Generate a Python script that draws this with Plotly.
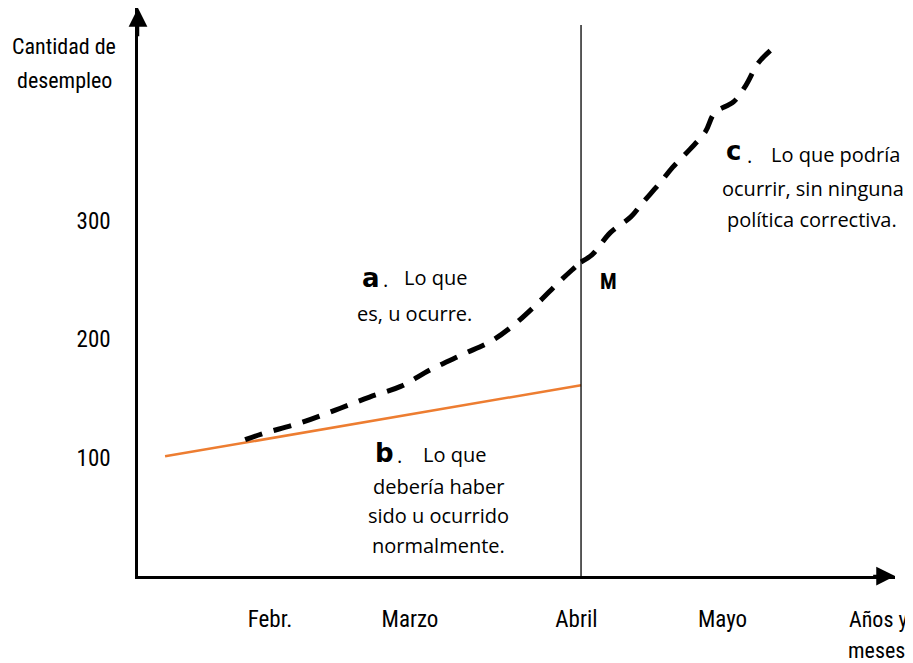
import plotly.graph_objects as go

# ---- data (x in months: Febr≈1 ... Abril=3, y = cantidad de desempleo) ----
x_a = [0.84, 0.95, 1.19, 1.42, 1.64, 1.84, 2.03, 2.24, 2.42, 2.56, 2.72, 2.85, 2.94, 3.0]
y_a = [115, 120, 129, 140, 151, 160, 174, 187, 198, 211, 230, 247, 258, 265]

x_c = [3.0, 3.07, 3.19, 3.32, 3.39, 3.51, 3.59, 3.70, 3.80, 3.86, 3.98, 4.06, 4.14, 4.24]
y_c = [265, 271, 290, 303, 314, 332, 345, 360, 375, 391, 400, 414, 433, 446]

x_b = [0.325, 3.0]
y_b = [101, 161]

x_tick_vals = [1.0, 1.9, 2.97, 3.91]
x_tick_text = ["Febr.", "Marzo", "Abril", "Mayo"]
y_tick_vals = [100, 200, 300]
y_tick_text = ["100", "200", "300"]

abril_x = 3.0
abril_top = 465

AX_FONT = "Roboto Condensed, Liberation Sans Narrow, Arial Narrow, sans-serif"
TXT_FONT = "Open Sans, Noto Sans, sans-serif"
BIG_FONT = "DejaVu Sans, Arial Black, sans-serif"

W, H = 905, 655          # page body adds an 8px margin
ml, mr, mt, mb = 130, 18, 0, 87
pw, ph = W - ml - mr, H - mt - mb
XR = [0.151, 5.019]
YR = [0, 479.3]

fig = go.Figure()
fig.add_trace(go.Scatter(x=x_b, y=y_b, mode="lines",
                         line=dict(color="#ED7D31", width=2.5), hoverinfo="skip"))
fig.add_trace(go.Scatter(x=x_a, y=y_a, mode="lines",
                         line=dict(color="black", width=5, dash="18px,12px", shape="spline"),
                         hoverinfo="skip"))
fig.add_trace(go.Scatter(x=x_c, y=y_c, mode="lines",
                         line=dict(color="black", width=5, dash="18px,12px", shape="spline"),
                         hoverinfo="skip"))

fig.add_shape(type="line", x0=abril_x, x1=abril_x, y0=0, y1=abril_top,
              line=dict(color="black", width=1.3))

ann = []
ann.append(dict(x=XR[1], y=0, ax=XR[1] - 0.15, ay=0, xref="x", yref="y", axref="x", ayref="y",
                text="", showarrow=True, arrowhead=2, arrowsize=1.5, arrowwidth=2.5, arrowcolor="black"))
ann.append(dict(x=XR[0], y=YR[1], ax=XR[0], ay=YR[1] - 25, xref="x", yref="y", axref="x", ayref="y",
                text="", showarrow=True, arrowhead=2, arrowsize=1.5, arrowwidth=2.5, arrowcolor="black"))


def pp(xr, yr, s, size=20, family=TXT_FONT, xanchor="center"):
    # xr, yr: position in the reference picture's pixels
    return dict(x=(xr - 8 - ml) / pw, y=1 - (yr - 8 - mt) / ph, xref="paper", yref="paper",
                text=s, showarrow=False, font=dict(family=family, size=size, color="black"),
                xanchor=xanchor, yanchor="middle")


ann += [
    pp(64, 46, "Cantidad de", size=22, family=AX_FONT),
    pp(64, 80, "desempleo", size=22, family=AX_FONT),
    pp(878, 619, "Años y", size=22, family=AX_FONT),
    pp(876, 650, "meses", size=22, family=AX_FONT),
    pp(608, 281, "<b>M</b>", size=22, family=AX_FONT),
    # a
    pp(371, 278, "<b>a</b>", size=26, family=BIG_FONT),
    pp(381, 279, ".", size=20, xanchor="left"),
    pp(402, 278, "Lo que", size=20, xanchor="left"),
    pp(414, 313, "es, u ocurre.", size=20),
    # b
    pp(384, 453, "<b>b</b>", size=26, family=BIG_FONT),
    pp(395, 455, ".", size=20, xanchor="left"),
    pp(421, 454, "Lo que", size=20, xanchor="left"),
    pp(438, 486, "debería haber", size=20),
    pp(438, 515, "sido u ocurrido", size=20),
    pp(438, 545, "normalmente.", size=20),
    # c
    pp(733, 151, "<b>c</b>", size=26, family=BIG_FONT),
    pp(745, 155, ".", size=20, xanchor="left"),
    pp(769, 154, "Lo que podría", size=20, xanchor="left"),
    pp(813, 188, "ocurrir, sin ninguna", size=20),
    pp(812, 219, "política correctiva.", size=20),
]

fig.update_layout(
    width=W, height=H,
    margin=dict(l=ml, r=mr, t=mt, b=mb),
    paper_bgcolor="white", plot_bgcolor="white",
    showlegend=False,
    annotations=ann,
    xaxis=dict(range=XR, showgrid=False, zeroline=False, showline=True, linecolor="black",
               linewidth=2.5, tickvals=x_tick_vals, ticktext=x_tick_text, ticks="",
               ticklabelstandoff=21, tickfont=dict(family=AX_FONT, size=23, color="black"),
               fixedrange=True),
    yaxis=dict(range=YR, showgrid=False, zeroline=False, showline=True, linecolor="black",
               linewidth=2.5, tickvals=y_tick_vals, ticktext=y_tick_text, ticks="",
               ticklabelstandoff=20, tickfont=dict(family=AX_FONT, size=23, color="black"),
               fixedrange=True),
)

fig.write_html("out.html")
